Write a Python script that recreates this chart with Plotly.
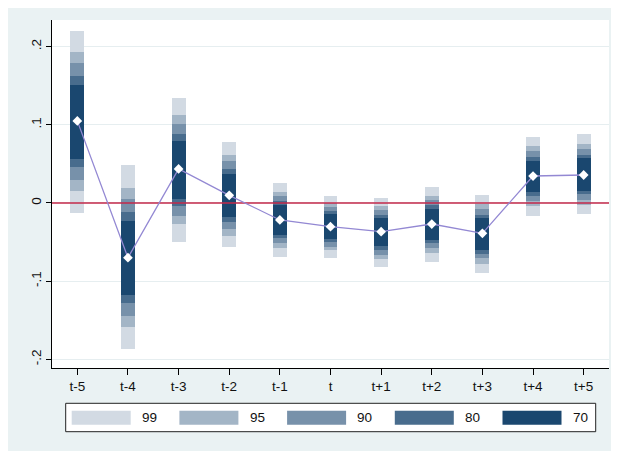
import plotly.graph_objects as go

periods = ["t-5", "t-4", "t-3", "t-2", "t-1", "t", "t+1", "t+2", "t+3", "t+4", "t+5"]
estimate = [0.105, -0.070, 0.0435, 0.0098, -0.0217, -0.0303, -0.0367, -0.0269, -0.0388, 0.0345, 0.0358]

levels = ["99", "95", "90", "80", "70"]
lo_99 = [-0.0124, -0.187, -0.0494, -0.0567, -0.0686, -0.070, -0.0814, -0.075, -0.090, -0.0162, -0.0145]
hi_99 = [0.220, 0.0486, 0.134, 0.0784, 0.0256, 0.009, 0.0064, 0.0209, 0.0106, 0.0844, 0.0882]
lo_95 = [0.0157, -0.159, -0.027, -0.0418, -0.0575, -0.0601, -0.0712, -0.0635, -0.078, -0.0042, -0.0026]
hi_95 = [0.1935, 0.0196, 0.1125, 0.0614, 0.014, -0.0004, -0.0038, 0.009, -0.0009, 0.0725, 0.0758]
lo_90 = [0.029, -0.145, -0.016, -0.0328, -0.0507, -0.0558, -0.066, -0.057, -0.0707, 0.0026, 0.0035]
hi_90 = [0.179, 0.005, 0.1006, 0.0537, 0.009, -0.0055, -0.009, 0.0038, -0.0077, 0.0669, 0.069]
lo_80 = [0.046, -0.128, -0.0038, -0.024, -0.045, -0.0499, -0.060, -0.051, -0.0652, 0.0093, 0.011]
hi_80 = [0.162, -0.0115, 0.088, 0.0435, 0.003, -0.0106, -0.015, -0.002, -0.015, 0.0592, 0.0614]
lo_70 = [0.056, -0.1176, 0.005, -0.018, -0.041, -0.046, -0.055, -0.0473, -0.060, 0.0137, 0.0153]
hi_70 = [0.151, -0.0226, 0.0797, 0.037, -0.0026, -0.014, -0.0192, -0.0077, -0.0188, 0.0541, 0.057]

y_tickvals = [-0.2, -0.1, 0, 0.1, 0.2]
y_ticktext = ["-.2", "-.1", "0", ".1", ".2"]
reference_y = 0

bounds = {"99": (lo_99, hi_99), "95": (lo_95, hi_95), "90": (lo_90, hi_90),
          "80": (lo_80, hi_80), "70": (lo_70, hi_70)}
colors = {"99": "#d2dae3", "95": "#a3b5c6", "90": "#7791aa", "80": "#486c8d", "70": "#1a476f"}

xs = list(range(len(periods)))
fig = go.Figure()

# zero reference line (drawn first, under the bars)
fig.add_trace(go.Scatter(
    x=[-0.5, len(periods) - 0.5], y=[reference_y, reference_y], mode="lines",
    line=dict(color="#c3284a", width=1.6), showlegend=False, hoverinfo="skip"))

for lev in levels:
    lo, hi = bounds[lev]
    fig.add_trace(go.Bar(
        x=xs, base=lo, y=[h - l for l, h in zip(lo, hi)],
        width=0.276, marker=dict(color=colors[lev], line=dict(width=0)),
        name=lev, showlegend=False, hoverinfo="skip"))

fig.add_trace(go.Scatter(
    x=xs, y=estimate, mode="lines+markers",
    line=dict(color="#9388d3", width=1.3),
    marker=dict(symbol="diamond", size=7.5, color="white", line=dict(width=0)),
    showlegend=False))

# manual legend (plot area in page pixels: x 52..609, y 20..368)
PL, PR, PT, PB = 52.0, 609.0, 20.0, 368.0
def px(x):
    return (x - PL) / (PR - PL)
def py(y):
    return (PB - y) / (PB - PT)

fig.add_shape(type="rect", xref="paper", yref="paper",
              x0=px(65.7), x1=px(595.7), y0=py(431.7), y1=py(403.3),
              line=dict(color="#222222", width=1), fillcolor="white", layer="above")
for i, lev in enumerate(levels):
    sx = 71.7 + i * 107.7
    fig.add_shape(type="rect", xref="paper", yref="paper",
                  x0=px(sx), x1=px(sx + 59), y0=py(424.7), y1=py(410.7),
                  line=dict(width=0), fillcolor=colors[lev], layer="above")
    fig.add_annotation(xref="paper", yref="paper", x=px(sx + 68.3), y=py(417.7),
                       text=lev, showarrow=False, xanchor="left", yanchor="middle",
                       font=dict(size=13.5, color="#111111"))

fig.update_layout(
    width=611, height=443,
    margin=dict(l=44, r=10, t=12, b=83),
    paper_bgcolor="#eaf2f3", plot_bgcolor="white",
    barmode="overlay", bargap=0,
    font=dict(family="Liberation Sans, Arial, sans-serif", size=13, color="#111111"),
    showlegend=False,
)
fig.update_xaxes(
    range=[-0.5, 10.5], tickmode="array", tickvals=xs, ticktext=periods,
    showgrid=False, zeroline=False, showline=True, linecolor="black", linewidth=1,
    ticks="outside", ticklen=6, tickcolor="black", tickfont=dict(size=13.5),
)
fig.update_yaxes(
    range=[-0.211, 0.234], tickmode="array", tickvals=y_tickvals, ticktext=y_ticktext,
    showgrid=True, gridcolor="#e6eef0", gridwidth=1, zeroline=False,
    showline=True, linecolor="black", linewidth=1,
    ticks="outside", ticklen=5, tickcolor="black", tickangle=-90,
    tickfont=dict(size=13.5),
)

fig.write_html("out.html")
